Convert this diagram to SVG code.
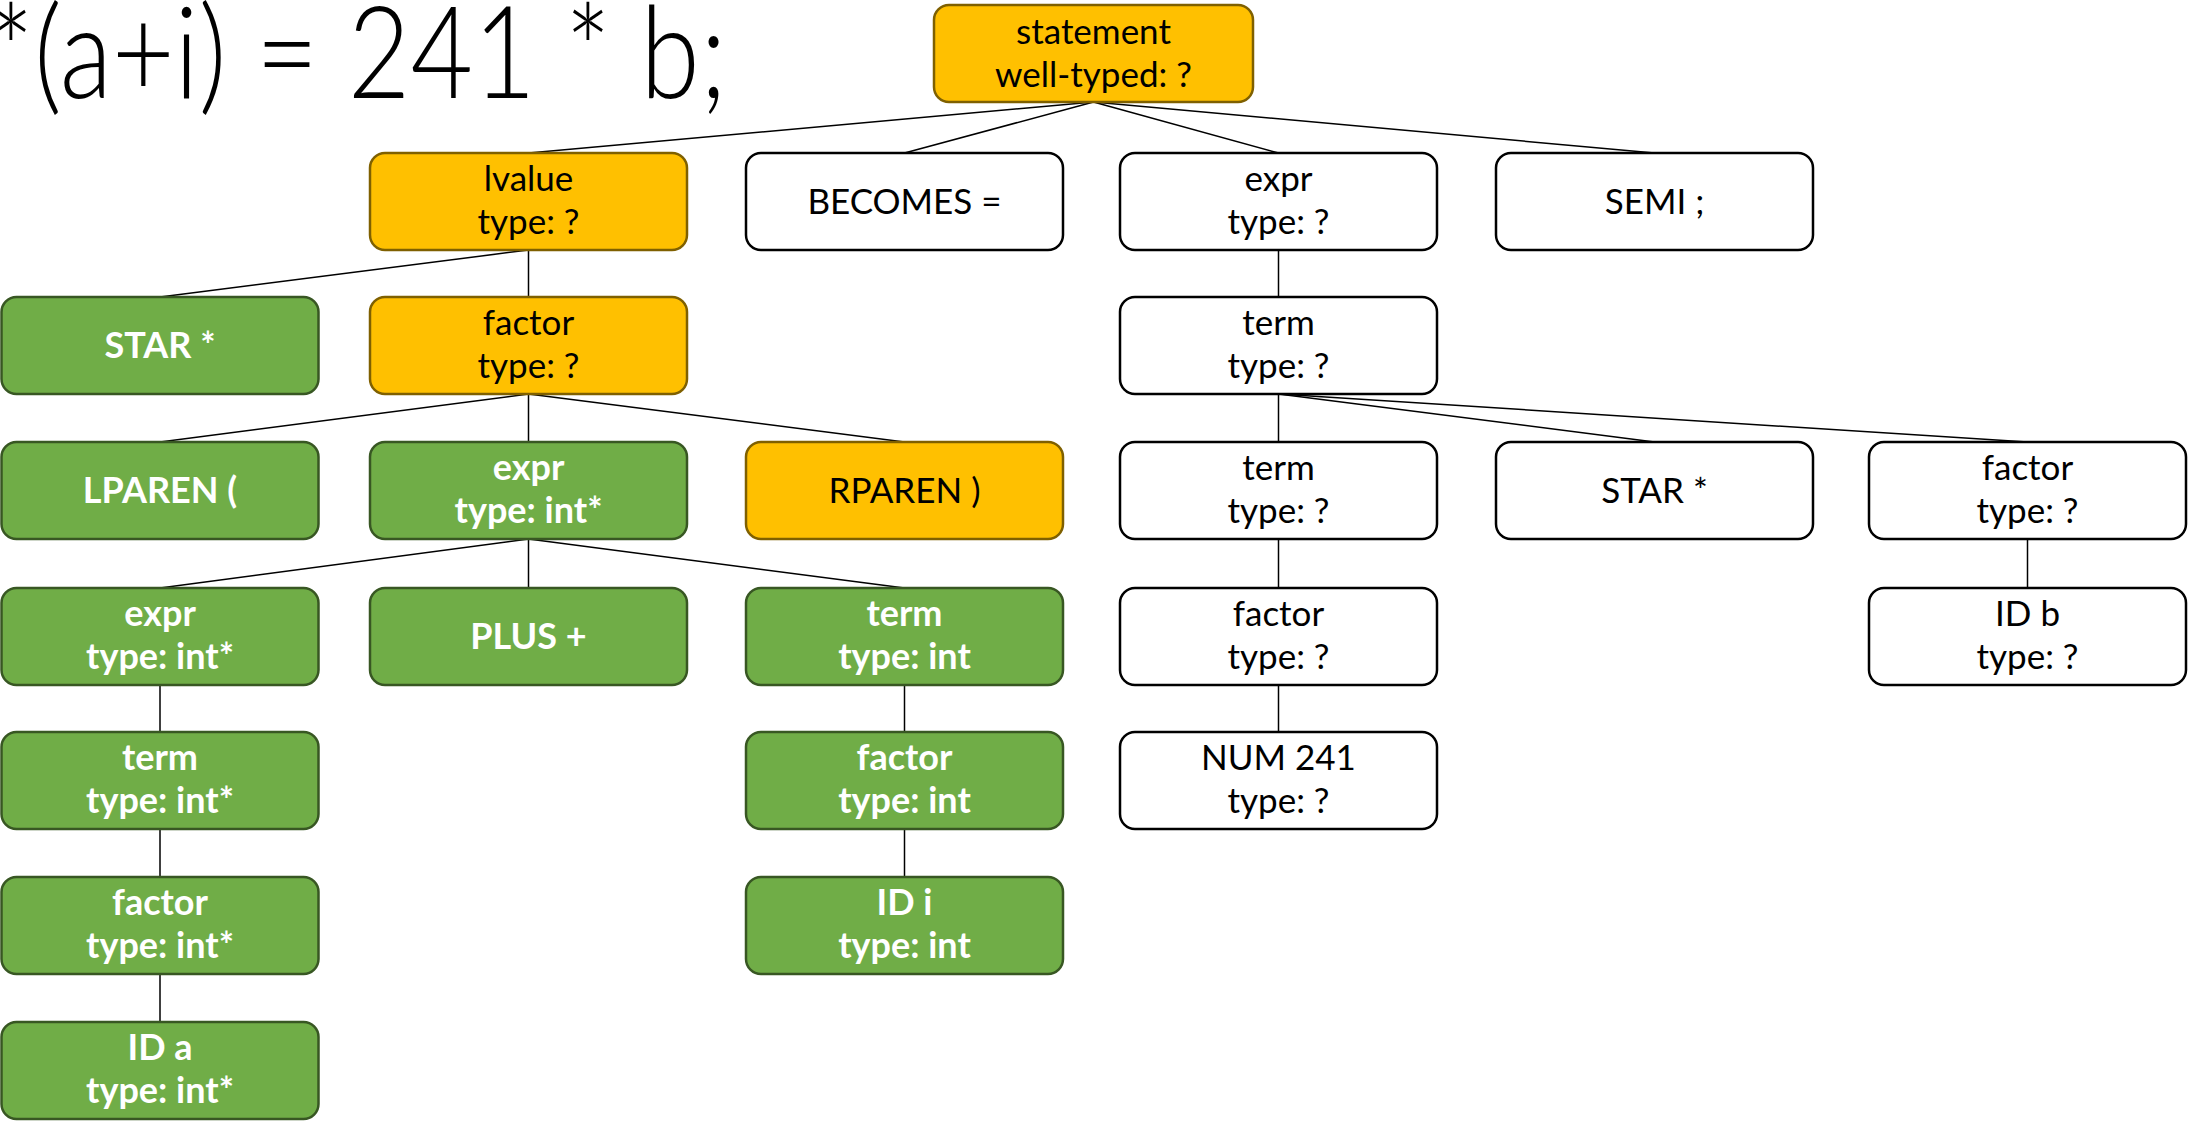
<svg xmlns="http://www.w3.org/2000/svg" width="2190" height="1124" viewBox="0 0 2190 1124">
  <style>
    .box { stroke-width: 2.5; }
    .orange { fill: #FFC000; stroke: #7F6000; }
    .green { fill: #70AD47; stroke: #385723; }
    .white { fill: #FFFFFF; stroke: #000000; }
    text { font-family: Lato, "Open Sans", "Liberation Sans", sans-serif; font-size: 35px; text-anchor: middle; }
    .dark { fill: #000000; }
    .light { fill: #FFFFFF; font-weight: bold; font-size: 36px; }
    .title { font-family: Lato, "Liberation Sans", sans-serif; font-weight: 300; font-size: 128px; text-anchor: start; fill: #000000; }
    .edges line { stroke: #000000; stroke-width: 1.5; }
  </style>

  <!-- source statement being typed -->
  <text class="title" x="-12" y="98" textLength="739" lengthAdjust="spacingAndGlyphs">*(a+i) = 241 * b;</text>

  <!-- parse tree edges: parent bottom centre to child top centre -->
  <g class="edges">
    <line x1="1093.5" y1="102" x2="528.5" y2="153"/>
    <line x1="1093.5" y1="102" x2="904.5" y2="153"/>
    <line x1="1093.5" y1="102" x2="1278.5" y2="153"/>
    <line x1="1093.5" y1="102" x2="1654.5" y2="153"/>

    <line x1="528.5" y1="250" x2="160" y2="297"/>
    <line x1="528.5" y1="250" x2="528.5" y2="297"/>

    <line x1="528.5" y1="394" x2="160" y2="442"/>
    <line x1="528.5" y1="394" x2="528.5" y2="442"/>
    <line x1="528.5" y1="394" x2="904.5" y2="442"/>

    <line x1="528.5" y1="539" x2="160" y2="588"/>
    <line x1="528.5" y1="539" x2="528.5" y2="588"/>
    <line x1="528.5" y1="539" x2="904.5" y2="588"/>

    <line x1="160" y1="685" x2="160" y2="732"/>
    <line x1="160" y1="829" x2="160" y2="877"/>
    <line x1="160" y1="974" x2="160" y2="1022"/>

    <line x1="904.5" y1="685" x2="904.5" y2="732"/>
    <line x1="904.5" y1="829" x2="904.5" y2="877"/>

    <line x1="1278.5" y1="250" x2="1278.5" y2="297"/>
    <line x1="1278.5" y1="394" x2="1278.5" y2="442"/>
    <line x1="1278.5" y1="394" x2="1654.5" y2="442"/>
    <line x1="1278.5" y1="394" x2="2027.5" y2="442"/>
    <line x1="1278.5" y1="539" x2="1278.5" y2="588"/>
    <line x1="1278.5" y1="685" x2="1278.5" y2="732"/>

    <line x1="2027.5" y1="539" x2="2027.5" y2="588"/>
  </g>

  <!-- root -->
  <g id="statement">
    <rect class="box orange" x="934" y="5" width="319" height="97" rx="15"/>
    <text class="dark" x="1093.5" y="44">statement</text>
    <text class="dark" x="1093.5" y="87">well-typed: ?</text>
  </g>

  <!-- row 1 -->
  <g id="lvalue">
    <rect class="box orange" x="370" y="153" width="317" height="97" rx="15"/>
    <text class="dark" x="528.5" y="191">lvalue</text>
    <text class="dark" x="528.5" y="234">type: ?</text>
  </g>
  <g id="becomes">
    <rect class="box white" x="746" y="153" width="317" height="97" rx="15"/>
    <text class="dark" x="904.5" y="214">BECOMES =</text>
  </g>
  <g id="expr-rhs">
    <rect class="box white" x="1120" y="153" width="317" height="97" rx="15"/>
    <text class="dark" x="1278.5" y="191">expr</text>
    <text class="dark" x="1278.5" y="234">type: ?</text>
  </g>
  <g id="semi">
    <rect class="box white" x="1496" y="153" width="317" height="97" rx="15"/>
    <text class="dark" x="1654.5" y="214">SEMI ;</text>
  </g>

  <!-- row 2 -->
  <g id="star-deref">
    <rect class="box green" x="1.5" y="297" width="317" height="97" rx="15"/>
    <text class="light" x="160" y="358">STAR *</text>
  </g>
  <g id="factor-lvalue">
    <rect class="box orange" x="370" y="297" width="317" height="97" rx="15"/>
    <text class="dark" x="528.5" y="335">factor</text>
    <text class="dark" x="528.5" y="378">type: ?</text>
  </g>
  <g id="term-rhs">
    <rect class="box white" x="1120" y="297" width="317" height="97" rx="15"/>
    <text class="dark" x="1278.5" y="335">term</text>
    <text class="dark" x="1278.5" y="378">type: ?</text>
  </g>

  <!-- row 3 -->
  <g id="lparen">
    <rect class="box green" x="1.5" y="442" width="317" height="97" rx="15"/>
    <text class="light" x="160" y="503">LPAREN (</text>
  </g>
  <g id="expr-sum">
    <rect class="box green" x="370" y="442" width="317" height="97" rx="15"/>
    <text class="light" x="528.5" y="480">expr</text>
    <text class="light" x="528.5" y="523">type: int*</text>
  </g>
  <g id="rparen">
    <rect class="box orange" x="746" y="442" width="317" height="97" rx="15"/>
    <text class="dark" x="904.5" y="503">RPAREN )</text>
  </g>
  <g id="term-241">
    <rect class="box white" x="1120" y="442" width="317" height="97" rx="15"/>
    <text class="dark" x="1278.5" y="480">term</text>
    <text class="dark" x="1278.5" y="523">type: ?</text>
  </g>
  <g id="star-mul">
    <rect class="box white" x="1496" y="442" width="317" height="97" rx="15"/>
    <text class="dark" x="1654.5" y="503">STAR *</text>
  </g>
  <g id="factor-b">
    <rect class="box white" x="1869" y="442" width="317" height="97" rx="15"/>
    <text class="dark" x="2027.5" y="480">factor</text>
    <text class="dark" x="2027.5" y="523">type: ?</text>
  </g>

  <!-- row 4 -->
  <g id="expr-a">
    <rect class="box green" x="1.5" y="588" width="317" height="97" rx="15"/>
    <text class="light" x="160" y="626">expr</text>
    <text class="light" x="160" y="669">type: int*</text>
  </g>
  <g id="plus">
    <rect class="box green" x="370" y="588" width="317" height="97" rx="15"/>
    <text class="light" x="528.5" y="649">PLUS +</text>
  </g>
  <g id="term-i">
    <rect class="box green" x="746" y="588" width="317" height="97" rx="15"/>
    <text class="light" x="904.5" y="626">term</text>
    <text class="light" x="904.5" y="669">type: int</text>
  </g>
  <g id="factor-241">
    <rect class="box white" x="1120" y="588" width="317" height="97" rx="15"/>
    <text class="dark" x="1278.5" y="626">factor</text>
    <text class="dark" x="1278.5" y="669">type: ?</text>
  </g>
  <g id="id-b">
    <rect class="box white" x="1869" y="588" width="317" height="97" rx="15"/>
    <text class="dark" x="2027.5" y="626">ID b</text>
    <text class="dark" x="2027.5" y="669">type: ?</text>
  </g>

  <!-- row 5 -->
  <g id="term-a">
    <rect class="box green" x="1.5" y="732" width="317" height="97" rx="15"/>
    <text class="light" x="160" y="770">term</text>
    <text class="light" x="160" y="813">type: int*</text>
  </g>
  <g id="factor-i">
    <rect class="box green" x="746" y="732" width="317" height="97" rx="15"/>
    <text class="light" x="904.5" y="770">factor</text>
    <text class="light" x="904.5" y="813">type: int</text>
  </g>
  <g id="num-241">
    <rect class="box white" x="1120" y="732" width="317" height="97" rx="15"/>
    <text class="dark" x="1278.5" y="770">NUM 241</text>
    <text class="dark" x="1278.5" y="813">type: ?</text>
  </g>

  <!-- row 6 -->
  <g id="factor-a">
    <rect class="box green" x="1.5" y="877" width="317" height="97" rx="15"/>
    <text class="light" x="160" y="915">factor</text>
    <text class="light" x="160" y="958">type: int*</text>
  </g>
  <g id="id-i">
    <rect class="box green" x="746" y="877" width="317" height="97" rx="15"/>
    <text class="light" x="904.5" y="915">ID i</text>
    <text class="light" x="904.5" y="958">type: int</text>
  </g>

  <!-- row 7 -->
  <g id="id-a">
    <rect class="box green" x="1.5" y="1022" width="317" height="97" rx="15"/>
    <text class="light" x="160" y="1060">ID a</text>
    <text class="light" x="160" y="1103">type: int*</text>
  </g>
</svg>
